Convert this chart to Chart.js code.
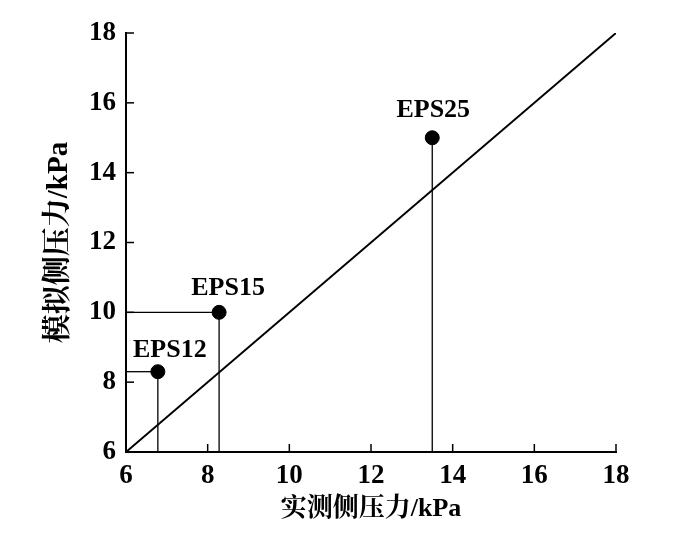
<!DOCTYPE html>
<html><head><meta charset="utf-8">
<script src="https://cdn.jsdelivr.net/npm/chart.js@4/dist/chart.umd.min.js"></script>
<style>html,body{margin:0;padding:0;background:#fff}#wrap{width:681px;height:536px}</style>
</head><body><div id="wrap"><canvas id="c" width="681" height="536"></canvas></div>
<script>
const labels = ["EPS12", "EPS15", "EPS25"];
const measured = [6.78, 8.28, 13.5];
const simulated = [8.3, 10.0, 15.0];
const hasHLine = [true, true, false];
const refLine = [6, 18];
const tickValues = [6, 8, 10, 12, 14, 16, 18];

const FONT = "'Liberation Serif', 'Noto Serif CJK SC', 'Noto Sans CJK SC', serif";
const pts = measured.map((x, i) => ({x, y: simulated[i]}));

const datasets = [
  {data: refLine.map(v => ({x: v, y: v})), showLine: true, borderColor: '#000', borderWidth: 2, pointRadius: 0, order: 2}
];
pts.forEach((p, i) => {
  datasets.push({data: [{x: p.x, y: 6}, {x: p.x, y: p.y}], showLine: true, borderColor: '#000', borderWidth: 1.3, pointRadius: 0, order: 3});
  if (hasHLine[i]) datasets.push({data: [{x: 6, y: p.y}, {x: p.x, y: p.y}], showLine: true, borderColor: '#000', borderWidth: 1.3, pointRadius: 0, order: 3});
});
datasets.push({data: pts, showLine: false, pointRadius: 7, pointBackgroundColor: '#000', pointBorderColor: '#000', order: 1});

const labelOffsets = [[12, -21], [9, -24], [1, -27]];

const extras = {
  id: 'extras',
  afterDraw(chart) {
    const ctx = chart.ctx, xs = chart.scales.x, ys = chart.scales.y;
    ctx.save();
    ctx.strokeStyle = '#000'; ctx.lineWidth = 1.5;
    tickValues.forEach(v => {
      if (v === 6) return;
      const px = xs.getPixelForValue(v), py = ys.getPixelForValue(v);
      ctx.beginPath(); ctx.moveTo(px, ys.bottom); ctx.lineTo(px, ys.bottom - 8); ctx.stroke();
      ctx.beginPath(); ctx.moveTo(xs.left, py); ctx.lineTo(xs.left + 8, py); ctx.stroke();
    });
    ctx.fillStyle = '#000';
    ctx.font = "bold 26px " + FONT;
    ctx.textAlign = 'center'; ctx.textBaseline = 'middle';
    labels.forEach((t, i) => {
      const px = xs.getPixelForValue(measured[i]), py = ys.getPixelForValue(simulated[i]);
      ctx.fillText(t, px + labelOffsets[i][0], py + labelOffsets[i][1]);
    });
    ctx.restore();
  }
};

new Chart(document.getElementById('c'), {
  type: 'scatter',
  data: {datasets},
  options: {
    responsive: false, animation: false,
    layout: {padding: {left: 0, top: 33, right: 65, bottom: 0}},
    plugins: {legend: {display: false}, tooltip: {enabled: false}},
    scales: {
      x: {
        type: 'linear', min: 6, max: 18,
        afterBuildTicks: s => { s.ticks = tickValues.map(v => ({value: v})); },
        afterFit: s => { s.height = 84; },
        grid: {display: false, drawTicks: false},
        border: {display: true, color: '#000', width: 2},
        ticks: {color: '#000', padding: 8, font: {family: FONT, size: 27, weight: 'bold'}},
        title: {display: true, text: '实测侧压力/kPa', color: '#000', padding: {top: 0, bottom: 11}, font: {family: FONT, size: 26, weight: 'bold'}}
      },
      y: {
        type: 'linear', min: 6, max: 18,
        afterBuildTicks: s => { s.ticks = tickValues.map(v => ({value: v})); },
        afterFit: s => { s.width = 126; },
        grid: {display: false, drawTicks: false},
        border: {display: true, color: '#000', width: 2},
        ticks: {color: '#000', padding: 10, font: {family: FONT, size: 27, weight: 'bold'}},
        title: {display: true, text: '模拟侧压力/kPa', color: '#000', padding: {top: 42, bottom: 0}, font: {family: FONT, size: 29, weight: 'bold'}}
      }
    }
  },
  plugins: [extras]
});
</script></body></html>
